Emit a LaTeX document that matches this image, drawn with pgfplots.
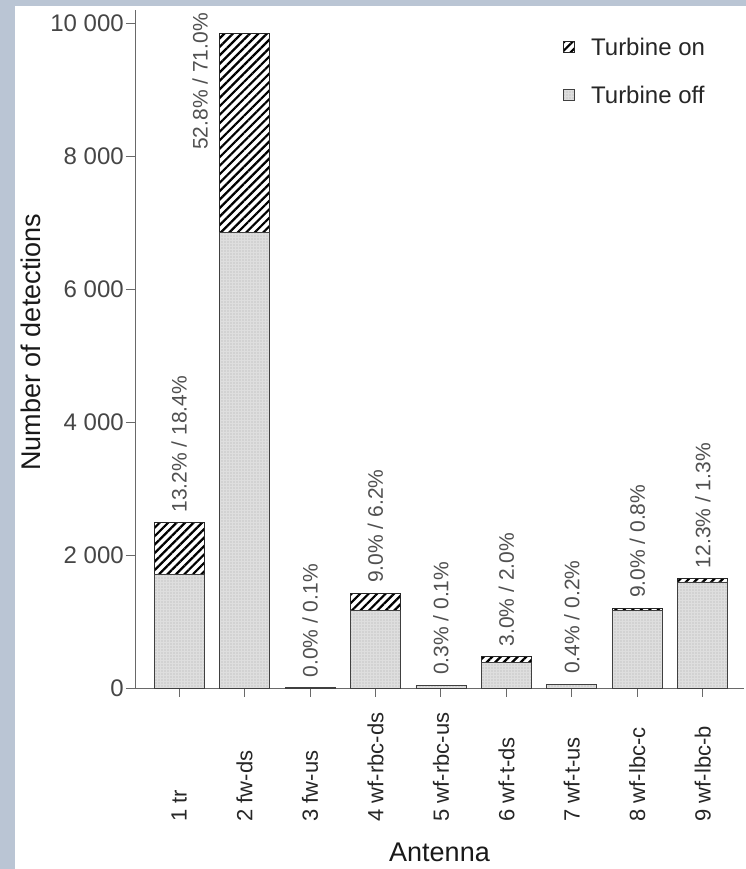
\documentclass[border=0pt]{standalone}
\usepackage{fontspec}
\setmainfont{Liberation Sans}
\usepackage{pgfplots}
\pgfplotsset{compat=1.18}
\usetikzlibrary{patterns.meta}
\definecolor{sky}{RGB}{186,197,212}
\definecolor{axisgray}{RGB}{105,105,105}
\definecolor{ticktext}{RGB}{70,70,70}
\definecolor{pcttext}{RGB}{80,80,80}
\definecolor{offfill}{RGB}{222,222,222}

% Turbine off / Turbine on detections per antenna
\pgfplotstableread{
x off on
1 1712 775
2 6848 2989
3 2 4
4 1167 261
5 39 4
6 389 84
7 52 8
8 1167 34
9 1595 55
}\datatable

\begin{document}
\begin{tikzpicture}
\useasboundingbox (0,0) rectangle (746pt,869pt);
\fill[sky] (0,0) rectangle (746pt,869pt);
\fill[white] (15pt,0) rectangle (746pt,863pt);
\begin{axis}[
  scale only axis, width=609pt, height=678pt,
  at={(135pt,181pt)}, anchor=south west,
  xmin=0.326, xmax=9.63, ymin=0, ymax=10195,
  ybar stacked, bar width=50pt,
  clip=false,
  axis lines=left,
  axis line style={draw=axisgray, line width=0.9pt, -},
  tick align=outside, major tick length=9pt,
  tick style={draw=axisgray, line width=0.9pt},
  xtick={1,...,9},
  xticklabels={1 tr, 2 fw-ds, 3 fw-us, 4 wf-rbc-ds, 5 wf-rbc-us, 6 wf-t-ds, 7 wf-t-us, 8 wf-lbc-c, 9 wf-lbc-b},
  xticklabel style={rotate=90, anchor=west, font=\fontsize{22}{26}\selectfont, text=black!85},
  xticklabel shift=128pt,
  ytick={0,2000,4000,6000,8000,10000},
  scaled y ticks=false,
  yticklabel={\pgfmathprintnumber[1000 sep={\ }, assume math mode=true]{\tick}},
  yticklabel style={text=ticktext, inner xsep=1pt, xshift=-1pt, font=\fontsize{24}{29}\selectfont},
  xlabel={Antenna},
  ylabel={Number of detections},
  xlabel style={at={(axis description cs:0.5,-0.243)}, anchor=center, font=\fontsize{27}{32}\selectfont, text=black!90},
  ylabel style={at={(axis description cs:-0.171,0.51)}, anchor=center, font=\fontsize{27}{32}\selectfont, text=black!90},
  legend style={at={(axis description cs:0.703,0.962)}, anchor=north west, draw=none, fill=none,
    font=\fontsize{24}{28}\selectfont, text=black!85, row sep=25pt, inner sep=0pt,
    nodes={inner xsep=0pt},
    /tikz/every odd column/.append style={column sep=16pt}},
  legend cell align=left,
  reverse legend,
  legend image code/.code={\draw[#1] (0pt,-5.5pt) rectangle (11pt,5.5pt);},
]
\addplot[draw=black!75, line width=0.8pt, fill=offfill,
  postaction={pattern={Dots[distance=3pt,radius=0.55pt]}, pattern color=black!32}]
  table[x=x, y=off] {\datatable};
\addlegendentry{Turbine off}
\addplot[draw=black!85, line width=0.8pt,
  pattern={Lines[angle=45,distance=6pt,line width=2.2pt]}, pattern color=black]
  table[x=x, y=on] {\datatable};
\addlegendentry{Turbine on}

\tikzset{pct/.style={rotate=90, font=\fontsize{21}{25}\selectfont, text=pcttext, inner ysep=0pt, inner xsep=10pt, anchor=west}}
\node[pct] at (axis cs:1,2487) {13.2\% / 18.4\%};
\node[pct, anchor=east, inner xsep=0pt] at (axis cs:1.32,10150) {52.8\% / 71.0\%};
\node[pct] at (axis cs:3,6) {0.0\% / 0.1\%};
\node[pct] at (axis cs:4,1428) {9.0\% / 6.2\%};
\node[pct] at (axis cs:5,43) {0.3\% / 0.1\%};
\node[pct] at (axis cs:6,473) {3.0\% / 2.0\%};
\node[pct] at (axis cs:7,60) {0.4\% / 0.2\%};
\node[pct] at (axis cs:8,1201) {9.0\% / 0.8\%};
\node[pct] at (axis cs:9,1650) {12.3\% / 1.3\%};
\end{axis}
\end{tikzpicture}
\end{document}
